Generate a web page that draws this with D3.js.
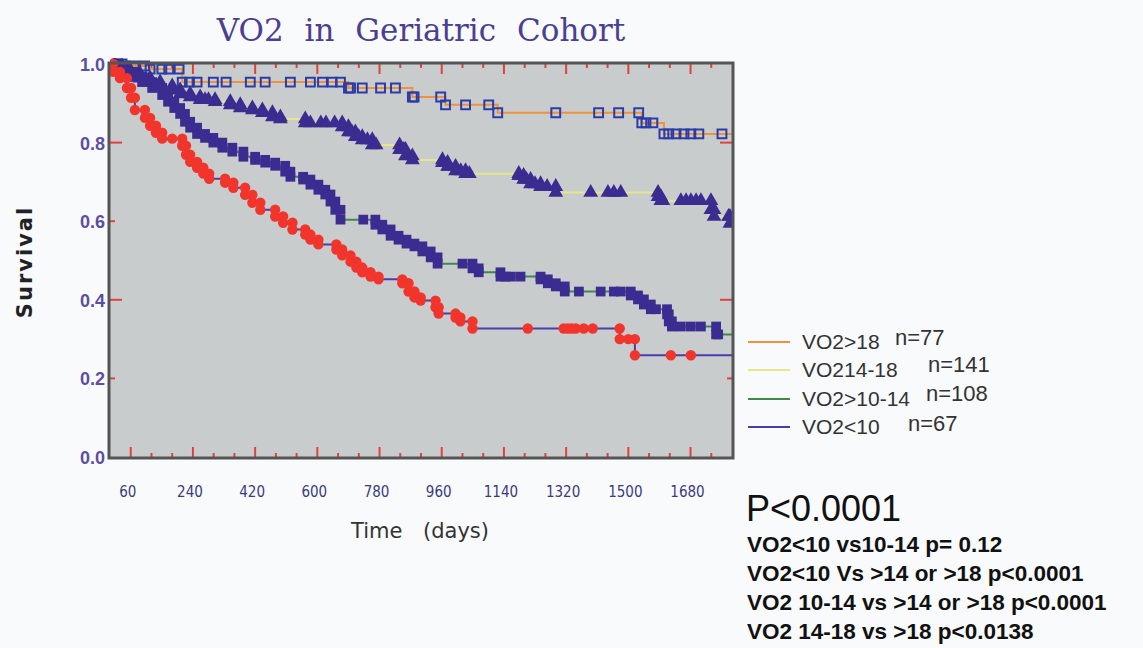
<!DOCTYPE html>
<html lang="en">
<head>
<meta charset="utf-8">
<title>VO2 in Geriatric Cohort</title>
<script src="https://d3js.org/d3.v7.min.js"></script>
<style>
  body { margin: 0; background: #f8fafc; }
  svg { display: block; }
</style>
</head>
<body>
<script>
// ---- data ----
// VO2>18, n=77 : step times (days) and survival after each step
var gt18Days = [43, 116, 209, 690, 875, 971, 1122, 1539, 1603];
var gt18Surv = [0.995, 0.987, 0.954, 0.939, 0.916, 0.896, 0.876, 0.85, 0.822];
var gt18Cens = [20, 35, 70, 100, 150, 170, 200, 230, 252, 299, 336, 406, 449, 522, 580, 615, 643, 667,
                696, 730, 783, 826, 880, 957, 1029, 1096, 1290, 1414, 1472, 1530, 1551, 1571,
                1617, 1638, 1661, 1681, 1704, 1771];

// VO2 14-18, n=141
var v1418Days = [14, 35, 58, 87, 116, 145, 180, 203, 232, 261, 304, 348, 377, 412, 441, 470, 493,
                 565, 672, 690, 710, 730, 759, 838, 855, 875, 962, 977, 1000, 1029,
                 1183, 1197, 1217, 1246, 1290, 1586, 1594, 1739, 1748, 1794];
var v1418Surv = [0.995, 0.985, 0.975, 0.964, 0.954, 0.944, 0.934, 0.924, 0.916, 0.909, 0.904, 0.896, 0.888,
                 0.883, 0.876, 0.865, 0.86, 0.85, 0.84, 0.827, 0.815, 0.807, 0.794, 0.782, 0.766, 0.756,
                 0.749, 0.739, 0.728, 0.721, 0.716, 0.706, 0.695, 0.688, 0.673, 0.662, 0.652,
                 0.629, 0.612, 0.594];
var v1418Cens = [275, 285, 580, 610, 625, 650, 700, 720, 745, 770, 850, 980, 1015, 1040,
                 1205, 1230, 1265, 1391, 1441, 1458, 1478, 1600, 1652, 1667, 1681, 1696, 1710, 1790];

// VO2>10-14, n=108
var v1014Days = [23, 43, 67, 93, 122, 151, 168, 186, 203, 217, 232, 252, 275, 299, 325, 354, 386, 420,
                 449, 478, 507, 522, 559, 580, 603, 623, 638, 652, 667, 768, 788, 812, 835, 858, 881,
                 904, 928, 948, 1049, 1067, 1130, 1246, 1267, 1290, 1316, 1507, 1528, 1545, 1565,
                 1612, 1617, 1626, 1754];
var v1014Surv = [0.99, 0.98, 0.967, 0.954, 0.939, 0.921, 0.904, 0.888, 0.873, 0.853, 0.838, 0.822, 0.812,
                 0.8, 0.787, 0.777, 0.764, 0.756, 0.749, 0.741, 0.726, 0.713, 0.706, 0.693, 0.68, 0.668,
                 0.65, 0.629, 0.604, 0.591, 0.579, 0.563, 0.553, 0.543, 0.536, 0.523, 0.508, 0.492,
                 0.48, 0.47, 0.459, 0.452, 0.442, 0.434, 0.421, 0.411, 0.401, 0.388, 0.376,
                 0.363, 0.345, 0.332, 0.312];
var v1014Cens = [733, 1020, 1145, 1160, 1188, 1357, 1420, 1458, 1478, 1580, 1652, 1681, 1710, 1760];

// VO2<10, n=67
var lt10Days = [9, 29, 49, 61, 72, 101, 116, 133, 151, 209, 220, 232, 252, 270, 287, 333, 357, 391, 412,
                435, 478, 501, 528, 565, 580, 603, 655, 672, 696, 713, 730, 754, 777, 846, 864, 881,
                899, 942, 951, 1000, 1014, 1049, 1475, 1519];
var lt10Surv = [0.98, 0.964, 0.939, 0.914, 0.883, 0.863, 0.843, 0.825, 0.81, 0.792, 0.769, 0.751, 0.736,
                0.721, 0.708, 0.698, 0.685, 0.667, 0.647, 0.629, 0.612, 0.596, 0.579, 0.566, 0.553,
                0.541, 0.528, 0.513, 0.497, 0.482, 0.47, 0.459, 0.452, 0.442, 0.421, 0.406, 0.398,
                0.381, 0.365, 0.355, 0.345, 0.327, 0.30, 0.259];
var lt10Cens = [180, 1209, 1313, 1325, 1336, 1348, 1371, 1397, 1500, 1623, 1681];

var xTicks = [60, 240, 420, 600, 780, 960, 1140, 1320, 1500, 1680];
var yTicks = [0, 0.2, 0.4, 0.6, 0.8, 1.0];

var legendNames = ["VO2>18", "VO214-18", "VO2>10-14", "VO2<10"];
var legendN = ["n=77", "n=141", "n=108", "n=67"];
var pMain = "P<0.0001";
var pLines = ["VO2<10 vs10-14 p= 0.12",
              "VO2<10 Vs >14 or >18 p<0.0001",
              "VO2 10-14 vs >14 or >18 p<0.0001",
              "VO2 14-18 vs >18 p<0.0138"];

// ---- layout ----
var W = 1143, H = 648;
var pL = 110, pR = 732, pT = 64, pB = 457;

var svg = d3.select("body").append("svg").attr("width", W).attr("height", H);

var x = d3.scaleLinear().domain([0, 1800]).range([pL, pR]);
var y = d3.scaleLinear().domain([0, 1]).range([pB, pT]);

// title
svg.append("text")
  .attr("x", 421).attr("y", 41)
  .attr("text-anchor", "middle")
  .style("font-family", "'DejaVu Serif', serif")
  .style("font-size", "31px")
  .style("word-spacing", "11px")
  .style("fill", "#4b3f8f")
  .text("VO2 in Geriatric Cohort");

// plot background
svg.append("rect")
  .attr("x", pL - 1).attr("y", pT - 1)
  .attr("width", pR - pL + 2).attr("height", pB - pT + 2)
  .style("fill", "#c9cccc");

// red tick marks inside the frame
var tickG = svg.append("g").style("stroke", "#e2403c").style("stroke-width", 2);
d3.range(60, 1800, 60).forEach(function(d) {
  var len = (d - 60) % 180 === 0 ? 10 : 4;
  tickG.append("line").attr("x1", x(d)).attr("x2", x(d)).attr("y1", pB).attr("y2", pB - len);
  tickG.append("line").attr("x1", x(d)).attr("x2", x(d)).attr("y1", pT).attr("y2", pT + len);
});
[0.2, 0.4, 0.6, 0.8].forEach(function(v, i) {
  var len = i % 2 === 1 ? 12 : 5;
  tickG.append("line").attr("x1", pL).attr("x2", pL + len).attr("y1", y(v)).attr("y2", y(v));
  tickG.append("line").attr("x1", pR).attr("x2", pR - len).attr("y1", y(v)).attr("y2", y(v));
});

svg.append("clipPath").attr("id", "clip").append("rect")
  .attr("x", pL).attr("y", pT - 6).attr("width", pR - pL).attr("height", pB - pT + 6);
var plot = svg.append("g").attr("clip-path", "url(#clip)");

function stepPoints(days, surv) {
  var pts = [[0, 1]];
  days.forEach(function(d, i) { pts.push([d, surv[i]]); });
  pts.push([1800, surv[surv.length - 1]]);
  return pts;
}
function survAt(days, surv, t) {
  var v = 1;
  for (var i = 0; i < days.length; i++) { if (days[i] <= t) v = surv[i]; }
  return v;
}

var line = d3.line()
  .x(function(p) { return x(p[0]); })
  .y(function(p) { return y(p[1]); })
  .curve(d3.curveStepAfter);

var groups = [
  { days: gt18Days, surv: gt18Surv, cens: gt18Cens, color: "#f0913c", mark: "open" },
  { days: v1418Days, surv: v1418Surv, cens: v1418Cens, color: "#e6e68a", mark: "tri" },
  { days: v1014Days, surv: v1014Surv, cens: v1014Cens, color: "#3d8a4c", mark: "sq" },
  { days: lt10Days, surv: lt10Surv, cens: lt10Cens, color: "#4a3caa", mark: "dot" }
];

groups.forEach(function(g) {
  plot.append("path")
    .attr("d", line(stepPoints(g.days, g.surv)))
    .style("fill", "none")
    .style("stroke", g.color)
    .style("stroke-width", 2);
});

var sym = {
  open: d3.symbol().type(d3.symbolSquare).size(78),
  tri: d3.symbol().type(d3.symbolTriangle).size(95),
  sq: d3.symbol().type(d3.symbolSquare).size(95),
  dot: d3.symbol().type(d3.symbolCircle).size(85)
};

groups.forEach(function(g) {
  var marks = [];
  g.days.forEach(function(d, i) {
    var prev = i === 0 ? 1 : g.surv[i - 1];
    // mark both ends of each drop, so descending runs read as a chain
    if (g.mark !== "open") marks.push([d, prev]);
    marks.push([d, g.surv[i]]);
  });
  g.cens.forEach(function(t) { marks.push([t, survAt(g.days, g.surv, t)]); });
  plot.selectAll(null)
    .data(marks)
    .enter().append("path")
    .attr("transform", function(p) { return "translate(" + x(p[0]) + "," + y(p[1]) + ")"; })
    .attr("d", sym[g.mark])
    .style("fill", g.mark === "open" ? "none" : (g.mark === "dot" ? "#f2352c" : "#3a2c90"))
    .style("stroke", g.mark === "open" ? "#2c3ca6" : "none")
    .style("stroke-width", 2);
});

// frame
svg.append("rect")
  .attr("x", pL - 1).attr("y", pT - 1)
  .attr("width", pR - pL + 2).attr("height", pB - pT + 2)
  .style("fill", "none").style("stroke", "#555").style("stroke-width", 3);

// y tick labels
svg.selectAll(".ylab")
  .data(yTicks)
  .enter().append("text")
  .attr("x", 105).attr("y", function(v) { return y(v) + 7; })
  .attr("text-anchor", "end")
  .style("font-family", "'Liberation Sans', Arial, sans-serif")
  .style("font-weight", "bold")
  .style("font-size", "18px")
  .style("fill", "#5d4e9e")
  .text(function(v) { return v.toFixed(1); });

// x tick labels
svg.selectAll(".xlab")
  .data(xTicks)
  .enter().append("text")
  .attr("x", function(d) { return x(d) - 3; }).attr("y", 497)
  .attr("text-anchor", "middle")
  .style("font-family", "'Liberation Sans Narrow', 'DejaVu Sans Condensed', sans-serif")
  .style("font-size", "15px")
  .style("fill", "#3b3a7e")
  .text(function(d) { return d; });

// axis titles
svg.append("text")
  .attr("transform", "translate(32,262) rotate(-90)")
  .attr("text-anchor", "middle")
  .style("font-family", "'DejaVu Sans', sans-serif")
  .style("font-weight", "bold")
  .style("font-size", "21px")
  .style("letter-spacing", "2px")
  .style("fill", "#222")
  .text("Survival");

svg.append("text")
  .attr("x", 420).attr("y", 538)
  .attr("text-anchor", "middle")
  .style("font-family", "'DejaVu Sans', sans-serif")
  .style("font-size", "21px")
  .style("word-spacing", "14px")
  .style("fill", "#333")
  .text("Time (days)");

// legend
var legY = [342, 370, 399, 427];
var legNX = [895, 928, 926, 908];
var legNY = [345, 372, 401, 431];
legendNames.forEach(function(name, i) {
  svg.append("line")
    .attr("x1", 748).attr("x2", 790).attr("y1", legY[i]).attr("y2", legY[i])
    .style("stroke", groups[i].color).style("stroke-width", 2);
  svg.append("text")
    .attr("x", 802).attr("y", legY[i] + 7)
    .style("font-family", "'Liberation Sans', Arial, sans-serif")
    .style("font-size", "21px").style("fill", "#333")
    .text(name);
  svg.append("text")
    .attr("x", legNX[i]).attr("y", legNY[i])
    .style("font-family", "'Liberation Sans', Arial, sans-serif")
    .style("font-size", "22px").style("fill", "#333")
    .text(legendN[i]);
});

// p-values
svg.append("text")
  .attr("x", 746).attr("y", 521)
  .style("font-family", "'Liberation Sans', Arial, sans-serif")
  .style("font-size", "36px").style("fill", "#111")
  .text(pMain);

pLines.forEach(function(t, i) {
  svg.append("text")
    .attr("x", 747).attr("y", 552 + i * 29)
    .style("font-family", "'Liberation Sans', Arial, sans-serif")
    .style("font-weight", "bold")
    .style("font-size", "22.5px").style("fill", "#111")
    .text(t);
});
</script>
</body>
</html>
